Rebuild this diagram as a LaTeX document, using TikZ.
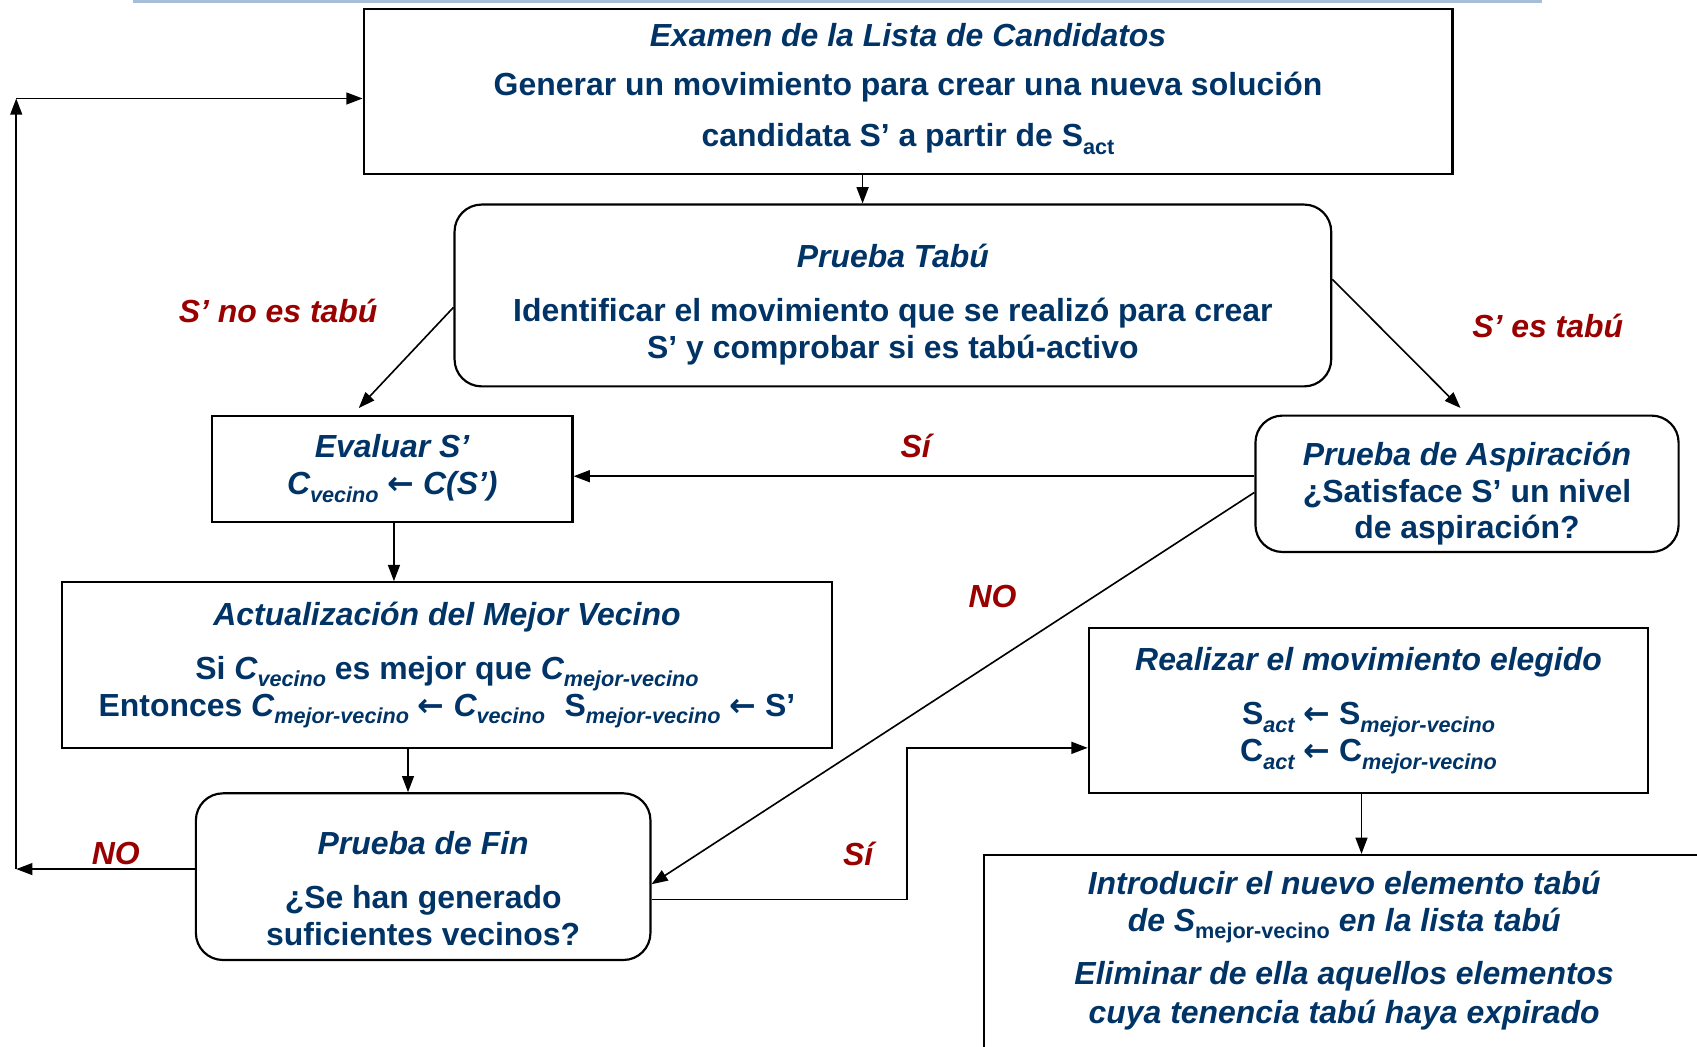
\documentclass[tikz,border=0pt]{standalone}
\usepackage{fontspec}
\setmainfont{Liberation Sans}
\newfontfamily\arrfont{DejaVu Sans}
\usetikzlibrary{arrows.meta}

\definecolor{txtblue}{RGB}{0,51,102}
\definecolor{lblred}{RGB}{153,0,0}
\definecolor{rulecol}{RGB}{166,191,216}
\newcommand{\lsub}[1]{\raisebox{-7pt}{\fontsize{20}{20}\selectfont #1}}
\newcommand{\larr}{{\arrfont\upshape\bfseries ←}}
\newcommand{\pushdown}[1]{\rule{0pt}{#1}}

\begin{document}
\begin{tikzpicture}[x=1pt,y=-1pt,
  box/.style={draw, line width=2pt, fill=white, text=txtblue, align=center,
    font=\bfseries\fontsize{29.5}{34}\selectfont, inner sep=0pt},
  rbox/.style={box, rounded corners=25pt},
  itxt/.style={text=txtblue, align=center, font=\bfseries\itshape\fontsize{29.5}{34}\selectfont},
  arr/.style={line width=1.5pt, -{Triangle[length=15pt,width=11pt]}},
  lbl/.style={text=lblred, font=\bfseries\itshape\fontsize{29.5}{34}\selectfont}]
\useasboundingbox (0,0) rectangle (1568,967);
\clip (0,0) rectangle (1568,967);
\draw[line width=3pt, rulecol] (123,1) -- (1425,1);

% boxes
\node[box, minimum width=1006, minimum height=153] (exam) at (839,84.5)
  {\textit{Examen de la Lista de Candidatos}\\[12pt]
   Generar un movimiento para crear una nueva solución\\[13pt]
   candidata S’ a partir de S\lsub{act}\rule[-12pt]{0pt}{0pt}};
\node[rbox, minimum width=810, minimum height=168] (tabu) at (825,273)
  {\pushdown{38pt}\textit{Prueba Tabú}\\[16pt]
   Identificar el movimiento que se realizó para crear\\
   S’ y comprobar si es tabú-activo};
\node[box, minimum width=333, minimum height=98] (eval) at (362.5,433)
  {\textit{Evaluar S’}\\
   \textit{C\lsub{vecino}} \larr{} \textit{C(S’)}};
\node[rbox, minimum width=391, minimum height=126] (aspir) at (1355.5,447)
  {\pushdown{40pt}\textit{Prueba de Aspiración}\\
   ¿Satisface S’ un nivel\\
   de aspiración?};
\node[box, minimum width=712, minimum height=153] (actual) at (413,614.5)
  {\textit{Actualización del Mejor Vecino}\\[16pt]
   Si \textit{C\lsub{vecino}} es mejor que \textit{C\lsub{mejor-vecino}}\\
   Entonces \textit{C\lsub{mejor-vecino}} \larr{} \textit{C\lsub{vecino}}\hspace{18pt}%
   S\lsub{\itshape mejor-vecino} \larr{} S’};
\node[rbox, minimum width=420, minimum height=154] (fin) at (391,810)
  {\pushdown{43.5pt}\textit{Prueba de Fin}\\[16pt]
   ¿Se han generado\\
   suficientes vecinos?};
\node[box, minimum width=517, minimum height=153] (realiz) at (1264.5,656.5)
  {\textit{Realizar el movimiento elegido}\\[16pt]
   S\lsub{\itshape act} \larr{} S\lsub{\itshape mejor-vecino}\\
   C\lsub{\itshape act} \larr{} C\lsub{\itshape mejor-vecino}};
\node[box, minimum width=800, minimum height=320, anchor=north west] (intro) at (908,789) {};
\node[itxt] (introtxt) at (1242,878)
  {Introducir el nuevo elemento tabú\\
   de S\lsub{\upshape mejor-vecino} en la lista tabú\\[15pt]
   Eliminar de ella aquellos elementos\\[2pt]
   cuya tenencia tabú haya expirado};

% connectors
\coordinate (loopbot) at (15,803);
\coordinate (looptop) at (15,91);
\coordinate (jog) at (838,691);
\draw[arr] (exam.south -| 797,0) -- (tabu.north -| 797,0);
\draw[arr] ([yshift=-11pt]tabu.west) -- ([xshift=-31pt,yshift=6pt]eval.north);
\draw[arr] ([yshift=15pt]tabu.east) -- ([xshift=-6pt,yshift=6pt]aspir.north);
\draw[arr] ([yshift=7pt]aspir.west) -- ([yshift=7pt]aspir.west -| eval.east);
\draw[arr] ([yshift=-8pt]aspir.west) -- ([yshift=-7pt]fin.east);
\draw[arr] (eval.south -| 364,0) -- (actual.north -| 364,0);
\draw[arr] (actual.south -| 377,0) -- (fin.north -| 377,0);
\draw[arr] ([yshift=7pt]fin.west) -- (loopbot);
\draw[arr] (loopbot) -- (looptop);
\draw[arr] (looptop) -- (looptop -| exam.west);
\draw[arr] ([yshift=-21pt]fin.east) -| (jog) -- (jog -| realiz.west);
\draw[arr] (realiz.south -| 1258,0) -- (intro.north -| 1258,0);

% labels
\node[lbl] (lnotabu) at (257,287) {S’ no es tabú};
\node[lbl] (lestabu) at (1430,301) {S’ es tabú};
\node[lbl] (lsia) at (846,412) {Sí};
\node[lbl] (lnoa) at (917,551) {NO};
\node[lbl] (lnob) at (107,789) {NO};
\node[lbl] (lsib) at (793,789) {Sí};
\end{tikzpicture}
\end{document}
